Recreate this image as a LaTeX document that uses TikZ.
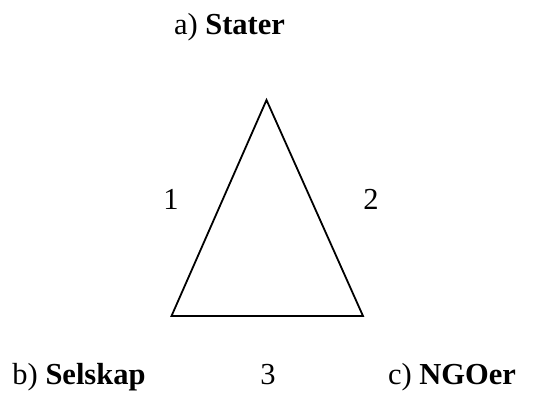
\documentclass[tikz,border=0pt]{standalone}
\usepackage{fontspec}
\setmainfont{Liberation Serif}
\usetikzlibrary{positioning}

\begin{document}
\begin{tikzpicture}[x=1pt,y=-1pt]
  \tikzset{
    lbl/.style={font=\fontsize{30.5}{36}\selectfont, anchor=base, inner sep=0pt},
    side/.style={line width=1.8pt, line join=miter}
  }
  \useasboundingbox (0,0) rectangle (535,394);
  % corners of the triangle
  \coordinate (apex) at (266.5,100);
  \coordinate (left) at (171.5,316);
  \coordinate (right) at (363,316);
  \draw[side] (apex) -- (left) -- (right) -- cycle;
  % actors and relations
  \node[lbl] (stater) at (229.5,34) {a) \textbf{Stater}};
  \node[lbl] (selskap) at (79,384) {b) \textbf{Selskap}};
  \node[lbl] (ngoer) at (452,384) {c) \textbf{NGOer}};
  \node[lbl] (rel1) at (171,209) {1};
  \node[lbl] (rel2) at (371,209) {2};
  \node[lbl] (rel3) at (268,384) {3};
\end{tikzpicture}
\end{document}
